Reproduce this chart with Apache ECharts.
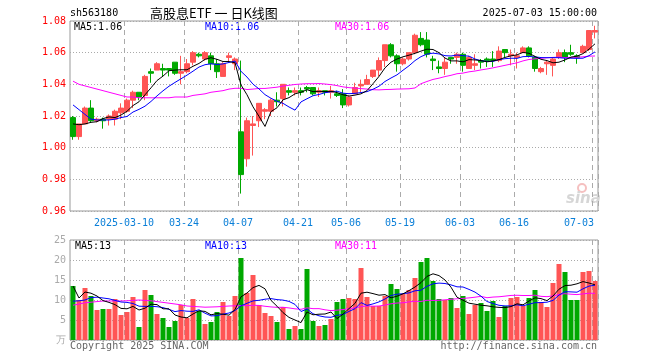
<!DOCTYPE html>
<html><head><meta charset="utf-8">
<script src="https://cdn.jsdelivr.net/npm/echarts@6/dist/echarts.min.js"></script>
<style>html,body{margin:0;padding:0;background:#fff}#c{width:660px;height:360px}</style>
</head><body><div id="c"></div>
<script>
const dates = [
'2025-02-25','2025-02-26','2025-02-27','2025-02-28',
'2025-03-03','2025-03-04','2025-03-05','2025-03-06','2025-03-07',
'2025-03-10','2025-03-11','2025-03-12','2025-03-13','2025-03-14',
'2025-03-17','2025-03-18','2025-03-19','2025-03-20','2025-03-21',
'2025-03-24','2025-03-25','2025-03-26','2025-03-27','2025-03-28','2025-03-31',
'2025-04-01','2025-04-02','2025-04-03',
'2025-04-07','2025-04-08','2025-04-09','2025-04-10','2025-04-11',
'2025-04-14','2025-04-15','2025-04-16','2025-04-17','2025-04-18',
'2025-04-21','2025-04-22','2025-04-23','2025-04-24','2025-04-25',
'2025-04-28','2025-04-29','2025-04-30',
'2025-05-06','2025-05-07','2025-05-08','2025-05-09',
'2025-05-12','2025-05-13','2025-05-14','2025-05-15','2025-05-16',
'2025-05-19','2025-05-20','2025-05-21','2025-05-22','2025-05-23',
'2025-05-26','2025-05-27','2025-05-28','2025-05-29','2025-05-30',
'2025-06-03','2025-06-04','2025-06-05','2025-06-06',
'2025-06-09','2025-06-10','2025-06-11','2025-06-12','2025-06-13',
'2025-06-16','2025-06-17','2025-06-18','2025-06-19','2025-06-20',
'2025-06-23','2025-06-24','2025-06-25','2025-06-26','2025-06-27',
'2025-06-30','2025-07-01','2025-07-02','2025-07-03'];

const opens = [1.019,1.007,1.015,1.025,1.017,1.018,1.018,1.018,1.022,1.023,
1.030,1.035,1.033,1.048,1.049,1.050,1.050,1.054,1.047,1.048,
1.054,1.059,1.056,1.058,1.053,1.045,1.057,1.053,1.010,0.993,
1.014,1.017,1.023,1.023,1.030,1.031,1.036,1.035,1.036,1.038,
1.038,1.035,1.036,1.035,1.034,1.034,1.027,1.034,1.039,1.040,
1.045,1.049,1.055,1.065,1.058,1.053,1.056,1.060,1.069,1.068,
1.056,1.051,1.050,1.057,1.057,1.059,1.050,1.052,1.055,1.056,
1.056,1.055,1.062,1.058,1.057,1.060,1.063,1.057,1.048,1.053,
1.052,1.057,1.060,1.060,1.058,1.060,1.062,1.073];
const closes = [1.007,1.015,1.025,1.017,1.018,1.017,1.020,1.023,1.025,1.030,
1.035,1.032,1.045,1.047,1.053,1.049,1.049,1.047,1.048,1.053,
1.060,1.058,1.060,1.053,1.048,1.053,1.058,1.056,0.983,1.017,
1.015,1.028,1.024,1.030,1.029,1.040,1.035,1.036,1.035,1.037,
1.034,1.036,1.035,1.036,1.033,1.027,1.032,1.038,1.040,1.043,
1.049,1.055,1.065,1.058,1.053,1.056,1.060,1.071,1.065,1.059,
1.055,1.050,1.054,1.056,1.059,1.052,1.057,1.053,1.054,1.055,
1.055,1.061,1.060,1.059,1.058,1.063,1.058,1.050,1.050,1.054,
1.056,1.060,1.057,1.059,1.057,1.064,1.074,1.074];
const lows = [1.005,1.005,1.015,1.016,1.016,1.012,1.014,1.014,1.018,1.022,
1.025,1.030,1.030,1.041,1.049,1.045,1.045,1.046,1.040,1.047,
1.052,1.057,1.055,1.049,1.044,1.045,1.054,1.049,0.971,0.988,
0.995,1.013,1.018,1.020,1.026,1.026,1.033,1.033,1.033,1.035,
1.033,1.032,1.033,1.031,1.032,1.025,1.026,1.034,1.035,1.040,
1.044,1.045,1.051,1.057,1.048,1.052,1.055,1.059,1.064,1.057,
1.049,1.047,1.046,1.053,1.053,1.048,1.050,1.049,1.050,1.051,
1.051,1.054,1.057,1.052,1.050,1.060,1.057,1.048,1.047,1.046,
1.045,1.056,1.054,1.058,1.053,1.060,1.061,1.069];
const highs = [1.020,1.015,1.026,1.030,1.019,1.019,1.021,1.024,1.028,1.031,
1.036,1.035,1.046,1.050,1.054,1.053,1.050,1.054,1.058,1.056,
1.061,1.060,1.061,1.060,1.056,1.054,1.060,1.057,1.055,1.019,
1.020,1.028,1.025,1.031,1.035,1.040,1.038,1.038,1.038,1.039,
1.038,1.038,1.036,1.039,1.036,1.037,1.033,1.041,1.043,1.046,
1.049,1.057,1.065,1.066,1.059,1.057,1.060,1.072,1.073,1.073,
1.058,1.055,1.057,1.057,1.060,1.060,1.058,1.059,1.056,1.057,
1.061,1.064,1.062,1.062,1.060,1.064,1.064,1.058,1.051,1.055,
1.057,1.062,1.062,1.065,1.059,1.065,1.074,1.077];
const volumes = [13.5,10,13,11,7.5,7.75,7.75,10.25,6.25,7,
10.75,3.25,12.5,11.25,6.5,5.5,3.25,4.75,8.75,5.5,
10.25,7.25,4,4.5,7,9.5,6,11,20.5,11.75,
16.25,8.75,6.75,6,4.5,8.25,2.75,3.5,2.75,17.75,
4.75,3.5,3.75,5.25,9.5,10.25,10.5,10.25,18,10.75,
8.5,8.5,11,14,12.75,11.5,12.5,15.5,19.5,20.5,
14.75,10.25,10,10.5,8,11,6.5,8.75,9.25,7.25,
9.75,5.75,8.5,10.5,10.75,8.5,10.5,12.5,9.5,8.25,
14.25,19,17,10,10,17,17.25,14.75];

// moving-average values before enough history is visible
const ma5Head = [1.015,1.0145,1.015,1.016];
const ma10Head = [1.027,1.024,1.021,1.018,1.0175,1.0175,1.0175,1.018,1.019];
const ma30Head = [1.042,1.040,1.039,1.038,1.037,1.036,1.035,1.034,1.033,1.032,
1.032,1.0315,1.0315,1.0315,1.0315,1.0315,1.0315,1.032,1.032,1.032,
1.033,1.0335,1.034,1.035,1.0355,1.036,1.037,1.0375,1.0375];
const volMa5Head = [13.5,10.5,12,11.7];
const volMa10Head = [9.7,9.8,10.0,10.6,10.7,10.5,10.3,9.9,9.5];
const volMa30Head = [8.7,9.0,9.3,9.45,9.6,9.75,9.75,9.75,9.75,9.8,
9.9,10,9.9,9.8,9.6,9.4,9.2,9.0,8.8,8.5,
8.4,8.3,8.2,8.25,8.3,8.4,8.5,8.55,8.6];

const tickLabels = ['2025-03-10','03-24','04-07','04-21','05-06','05-19','06-03','06-16','07-03'];
const priceTicks = [0.96,0.98,1.00,1.02,1.04,1.06,1.08];
const volTicks = [0,5,10,15,20,25];

const maPriceText = ['MA5:1.06','MA10:1.06','MA30:1.06'];
const maVolText = ['MA5:13','MA10:13','MA30:11'];

function ma(src, n, head) {
  return src.map((_, i) => {
    if (i < n - 1) return head[i];
    let s = 0;
    for (let k = i - n + 1; k <= i; k++) s += src[k];
    return +(s / n).toFixed(4);
  });
}

const tickIdx = tickLabels.map(t => dates.findIndex(d => d.endsWith(t)));
const tickSet = new Set(tickIdx);
const isTick = (i) => tickSet.has(i);
const lastIdx = dates.length - 1;

const UP = '#ff5555', DOWN = '#00a800';
const MONO = '"DejaVu Sans Mono", "Liberation Mono", monospace';

const kData = dates.map((d, i) => [opens[i], closes[i], lows[i], highs[i]]);
const volData = volumes.map((v, i) => ({
  value: v,
  itemStyle: { color: closes[i] >= opens[i] ? UP : DOWN }
}));

const dashV = { show: true, interval: (i) => isTick(i), lineStyle: { color: '#aaa', type: [5, 4], width: 1 } };
const dotH = { show: true, lineStyle: { color: '#aaa', type: [1, 2], width: 1 } };

const chart = echarts.init(document.getElementById('c'), null, { renderer: 'canvas' });

const option = {
  animation: false,
  backgroundColor: '#fff',
  grid: [
    { left: 70, right: 62, top: 21, height: 190, show: true, borderColor: '#999', borderWidth: 1, backgroundColor: 'transparent' },
    { left: 70, right: 62, top: 240, height: 100, show: true, borderColor: '#999', borderWidth: 1, backgroundColor: 'transparent' }
  ],
  xAxis: [
    {
      type: 'category', gridIndex: 0, data: dates, boundaryGap: true,
      axisLine: { show: false }, axisTick: { show: false },
      splitLine: dashV,
      axisLabel: {
        show: true, interval: (i) => isTick(i), margin: 7,
        formatter: (v, i) => {
          const t = tickLabels[tickIdx.indexOf(i)] || '';
          return i === lastIdx ? '{e|' + t + '}' : '{n|' + t + '}';
        },
        rich: {
          n: { fontFamily: MONO, fontSize: 10, color: '#0a7fd8', padding: [0, 6, 0, 0] },
          e: { fontFamily: MONO, fontSize: 10, color: '#0a7fd8', padding: [0, 32, 0, 0] }
        }
      }
    },
    {
      type: 'category', gridIndex: 1, data: dates, boundaryGap: true,
      axisLine: { show: false }, axisTick: { show: false },
      splitLine: dashV, axisLabel: { show: false }
    }
  ],
  yAxis: [
    {
      type: 'value', gridIndex: 0, min: priceTicks[0], max: priceTicks[priceTicks.length - 1], interval: 0.02,
      axisLine: { show: false }, axisTick: { show: false }, splitLine: dotH,
      axisLabel: { color: '#ff0000', fontFamily: MONO, fontSize: 10, margin: 4, formatter: (v) => v.toFixed(2) }
    },
    {
      type: 'value', gridIndex: 1, min: volTicks[0], max: volTicks[volTicks.length - 1], interval: 5,
      axisLine: { show: false }, axisTick: { show: false }, splitLine: dotH,
      axisLabel: { color: '#aaa', fontFamily: MONO, fontSize: 10, margin: 4, formatter: (v) => v === 0 ? '万' : String(v) }
    }
  ],
  series: [
    {
      type: 'candlestick', xAxisIndex: 0, yAxisIndex: 0, data: kData, barWidth: 5,
      itemStyle: { color: UP, color0: DOWN, borderColor: UP, borderColor0: DOWN, borderWidth: 1 }
    },
    { type: 'line', xAxisIndex: 0, yAxisIndex: 0, data: ma(closes, 30, ma30Head), showSymbol: false, symbol: 'none', lineStyle: { color: '#ff00ff', width: 1 } },
    { type: 'line', xAxisIndex: 0, yAxisIndex: 0, data: ma(closes, 10, ma10Head), showSymbol: false, symbol: 'none', lineStyle: { color: '#0000ff', width: 1 } },
    { type: 'line', xAxisIndex: 0, yAxisIndex: 0, data: ma(closes, 5, ma5Head), showSymbol: false, symbol: 'none', lineStyle: { color: '#000000', width: 1 } },
    { type: 'bar', xAxisIndex: 1, yAxisIndex: 1, data: volData, barWidth: 5 },
    { type: 'line', xAxisIndex: 1, yAxisIndex: 1, data: ma(volumes, 30, volMa30Head), showSymbol: false, symbol: 'none', lineStyle: { color: '#ff00ff', width: 1 } },
    { type: 'line', xAxisIndex: 1, yAxisIndex: 1, data: ma(volumes, 10, volMa10Head), showSymbol: false, symbol: 'none', lineStyle: { color: '#0000ff', width: 1 } },
    { type: 'line', xAxisIndex: 1, yAxisIndex: 1, data: ma(volumes, 5, volMa5Head), showSymbol: false, symbol: 'none', lineStyle: { color: '#000000', width: 1 } }
  ],
  graphic: [
    { type: 'text', x: 70, y: 13, style: { text: 'sh563180', font: '10px ' + MONO, fill: '#000', verticalAlign: 'middle' } },
    { type: 'text', x: 150, y: 13, style: { text: '高股息ETF 一 日K线图', font: '13px "Noto Sans CJK SC"', fill: '#000', verticalAlign: 'middle' } },
    { type: 'text', x: 597, y: 13, style: { text: '2025-07-03 15:00:00', font: '10px ' + MONO, fill: '#000', align: 'right', verticalAlign: 'middle' } },
    { type: 'text', x: 74, y: 27, style: { text: maPriceText[0], font: '10px ' + MONO, fill: '#000', verticalAlign: 'middle' } },
    { type: 'text', x: 205, y: 27, style: { text: maPriceText[1], font: '10px ' + MONO, fill: '#0000ff', verticalAlign: 'middle' } },
    { type: 'text', x: 335, y: 27, style: { text: maPriceText[2], font: '10px ' + MONO, fill: '#ff00ff', verticalAlign: 'middle' } },
    { type: 'text', x: 75, y: 246, style: { text: maVolText[0], font: '10px ' + MONO, fill: '#000', verticalAlign: 'middle' } },
    { type: 'text', x: 205, y: 246, style: { text: maVolText[1], font: '10px ' + MONO, fill: '#0000ff', verticalAlign: 'middle' } },
    { type: 'text', x: 335, y: 246, style: { text: maVolText[2], font: '10px ' + MONO, fill: '#ff00ff', verticalAlign: 'middle' } },
    { type: 'text', x: 70, y: 346, style: { text: 'Copyright 2025 SINA.COM', font: '10px ' + MONO, fill: '#666', verticalAlign: 'middle' } },
    { type: 'text', x: 597, y: 346, style: { text: 'http://finance.sina.com.cn', font: '10px ' + MONO, fill: '#666', align: 'right', verticalAlign: 'middle' } },
    { type: 'circle', shape: { cx: 582, cy: 188, r: 4 }, style: { fill: 'none', stroke: '#f5c0c0', lineWidth: 2 } },
    { type: 'text', x: 566, y: 199, style: { text: 'sina', font: 'italic bold 15px "DejaVu Sans"', fill: '#d6d6d6', verticalAlign: 'middle' } }
  ]
};
chart.setOption(option);
</script>
</body></html>
